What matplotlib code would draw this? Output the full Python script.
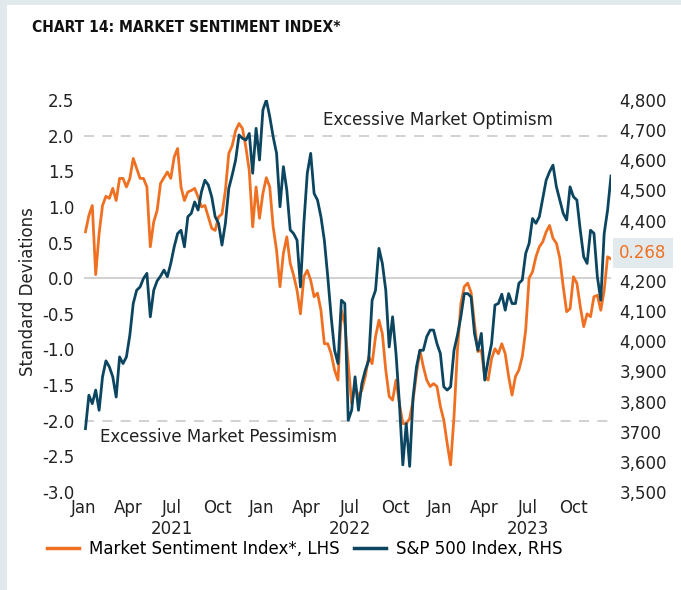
import matplotlib
matplotlib.use("Agg")
import matplotlib.pyplot as plt
import matplotlib.transforms as mtransforms
import matplotlib.dates as mdates
import pandas as pd
from matplotlib.patches import Rectangle
from matplotlib.lines import Line2D

ORANGE = "#F07022"
NAVY = "#0B4560"
GRID = "#C9C9C9"
FRAME = "#E1E9ED"

# weekly readings, first week 2021-01-04
first_week = "2021-01-04"

sentiment = [
    0.65, 0.88, 1.02, 0.05, 0.63, 1.02, 1.15, 1.12, 1.26, 1.09,
    1.40, 1.40, 1.28, 1.40, 1.68, 1.54, 1.40, 1.40, 1.28, 0.44,
    0.79, 0.95, 1.33, 1.41, 1.49, 1.40, 1.70, 1.82, 1.28, 1.09,
    1.21, 1.23, 1.26, 1.14, 1.00, 1.02, 0.86, 0.70, 0.67, 0.86,
    0.90, 1.23, 1.75, 1.86, 2.07, 2.17, 2.10, 1.84, 1.51, 0.72,
    1.28, 0.84, 1.19, 1.41, 1.28, 0.72, 0.39, -0.12, 0.35, 0.58,
    0.21, 0.04, -0.17, -0.50, 0.02, 0.11, -0.03, -0.26, -0.21, -0.45,
    -0.92, -0.92, -1.06, -1.29, -1.43, -0.45, -0.64, -1.20, -1.76, -1.52,
    -1.66, -1.57, -1.38, -1.10, -1.20, -0.82, -0.59, -0.78, -1.29, -1.66,
    -1.71, -1.43, -1.76, -2.04, -2.04, -1.97, -1.71, -1.34, -1.01, -1.24,
    -1.43, -1.52, -1.48, -1.52, -1.80, -1.99, -2.32, -2.62, -1.94, -1.01,
    -0.36, -0.12, -0.07, -0.20, -0.64, -1.03, -1.01, -1.38, -1.43, -1.13,
    -0.99, -1.06, -0.92, -1.06, -1.38, -1.64, -1.38, -1.29, -1.10, -0.73,
    0.00, 0.09, 0.30, 0.44, 0.51, 0.65, 0.74, 0.56, 0.49, 0.28,
    -0.12, -0.47, -0.43, 0.02, -0.07, -0.40, -0.68, -0.50, -0.54, -0.26,
    -0.24, -0.45, -0.17, 0.30, 0.27,
]

spx = [
    3710, 3821, 3793, 3838, 3771, 3882, 3935, 3915, 3882, 3815,
    3948, 3926, 3948, 4020, 4125, 4169, 4180, 4208, 4225, 4081,
    4169, 4200, 4216, 4236, 4214, 4258, 4313, 4357, 4368, 4313,
    4413, 4424, 4462, 4435, 4496, 4534, 4518, 4479, 4413, 4391,
    4319, 4391, 4507, 4551, 4601, 4684, 4673, 4667, 4689, 4557,
    4706, 4601, 4767, 4800, 4745, 4678, 4623, 4446, 4579, 4501,
    4369, 4357, 4335, 4180, 4391, 4557, 4623, 4490, 4468, 4413,
    4335, 4214, 4081, 3970, 3926, 4136, 4125, 3738, 3771, 3882,
    3771, 3860, 3904, 3937, 4136, 4169, 4308, 4258, 4169, 3981,
    4081, 3959, 3793, 3590, 3727, 3585, 3815, 3915, 3970, 3970,
    4015, 4037, 4037, 3992, 3959, 3849, 3838, 3849, 3970, 4020,
    4081, 4158, 4158, 4147, 4026, 3970, 4026, 3871, 3937, 3992,
    4120, 4125, 4156, 4103, 4158, 4125, 4125, 4192, 4203, 4291,
    4324, 4407, 4391, 4413, 4474, 4534, 4562, 4584, 4512, 4468,
    4424, 4402, 4512, 4479, 4468, 4368, 4280, 4258, 4368, 4358,
    4214, 4136, 4357, 4435, 4548,
]

left_ticks = [-3.0, -2.5, -2.0, -1.5, -1.0, -0.5, 0.0, 0.5, 1.0, 1.5, 2.0, 2.5]
right_ticks = [3500, 3600, 3700, 3800, 3900, 4000, 4100, 4200, 4300, 4400, 4500, 4600, 4700, 4800]
right_labels = ["3,500", "3,600", "3700", "3,800", "3,900", "4,000", "4,100", "4,200",
                "0.268", "4,400", "4,500", "4,600", "4,700", "4,800"]
years = [2021, 2022, 2023]

weeks = pd.date_range(first_week, periods=len(sentiment), freq="7D")

plt.rcParams["font.family"] = "DejaVu Sans"
plt.rcParams["font.size"] = 12

fig = plt.figure(figsize=(6.81, 5.90), dpi=100, facecolor=FRAME)
fig.add_artist(Rectangle((7 / 681, 0), 1, 1 - 5 / 590, transform=fig.transFigure,
                         facecolor="white", edgecolor="none", zorder=0))

ax = fig.add_axes([84 / 681, 1 - 492 / 590, 527 / 681, 392 / 590])
ax.set_facecolor("none")
ax2 = ax.twinx()

# reference lines
ax.axhline(0, color=GRID, linewidth=1.2, zorder=1)
for lvl in (2.0, -2.0):
    ax.axhline(lvl, color=GRID, linewidth=1.2, linestyle=(0, (6, 5)), zorder=1)
ax.text(pd.Timestamp("2022-05-06"), 2.1, "Excessive Market Optimism", va="bottom", ha="left",
        color="#222222")
ax.text(pd.Timestamp("2021-02-02"), -2.1, "Excessive Market Pessimism", va="top", ha="left",
        color="#222222")

ax.plot(weeks, sentiment, color=ORANGE, linewidth=2.0, zorder=3)
ax2.plot(weeks, spx, color=NAVY, linewidth=2.0, zorder=3)

ax.set_xlim(pd.Timestamp("2021-01-01"), pd.Timestamp("2023-12-18"))
ax.set_ylim(-3.0, 2.5)
ax2.set_ylim(3500, 4800)

ax.set_yticks(left_ticks)
ax.set_yticklabels([f"{v:.1f}" for v in left_ticks])
ax2.set_yticks(right_ticks)
ax2.set_yticklabels(right_labels)

ax.xaxis.set_major_locator(mdates.MonthLocator(bymonth=[1, 4, 7, 10]))
ax.xaxis.set_major_formatter(mdates.DateFormatter("%b"))

for a in (ax, ax2):
    for s in a.spines.values():
        s.set_visible(False)
ax.tick_params(axis="both", length=0, colors="#222222", labelsize=12)
ax.tick_params(axis="y", pad=7)
ax.tick_params(axis="x", pad=5)
ax2.tick_params(axis="y", length=0, colors="#222222", labelsize=12, pad=6)

for lab in ax2.get_yticklabels():
    if lab.get_text() == "0.268":
        lab.set_color(ORANGE)
        lab.set_bbox(dict(boxstyle="square,pad=0.35", facecolor="#E3EAEE", edgecolor="none"))

yr_tf = mtransforms.blended_transform_factory(ax.transData, fig.transFigure)
for yr in years:
    ax.text(pd.Timestamp(f"{yr}-07-01"), 1 - 529 / 590, str(yr), transform=yr_tf,
            ha="center", va="center", color="#222222")

fig.text(28 / 681, 1 - 292 / 590, "Standard Deviations", rotation=90, ha="center",
         va="center", color="#222222")
fig.text(32 / 681, 1 - 27 / 590, "CHART 14: MARKET SENTIMENT INDEX*", fontweight="bold",
         fontstretch="condensed", fontsize=11.2, ha="left", va="center", color="#111111")

handles = [Line2D([], [], color=ORANGE, linewidth=2.5),
           Line2D([], [], color=NAVY, linewidth=2.5)]
fig.legend(handles, ["Market Sentiment Index*, LHS", "S&P 500 Index, RHS"],
           loc="center left", bbox_to_anchor=(47 / 681, 1 - 549 / 590), ncol=2,
           frameon=False, handlelength=1.9, handletextpad=0.6, columnspacing=0.9,
           borderpad=0, borderaxespad=0)

fig.savefig("out.png", dpi=100, facecolor=fig.get_facecolor())
